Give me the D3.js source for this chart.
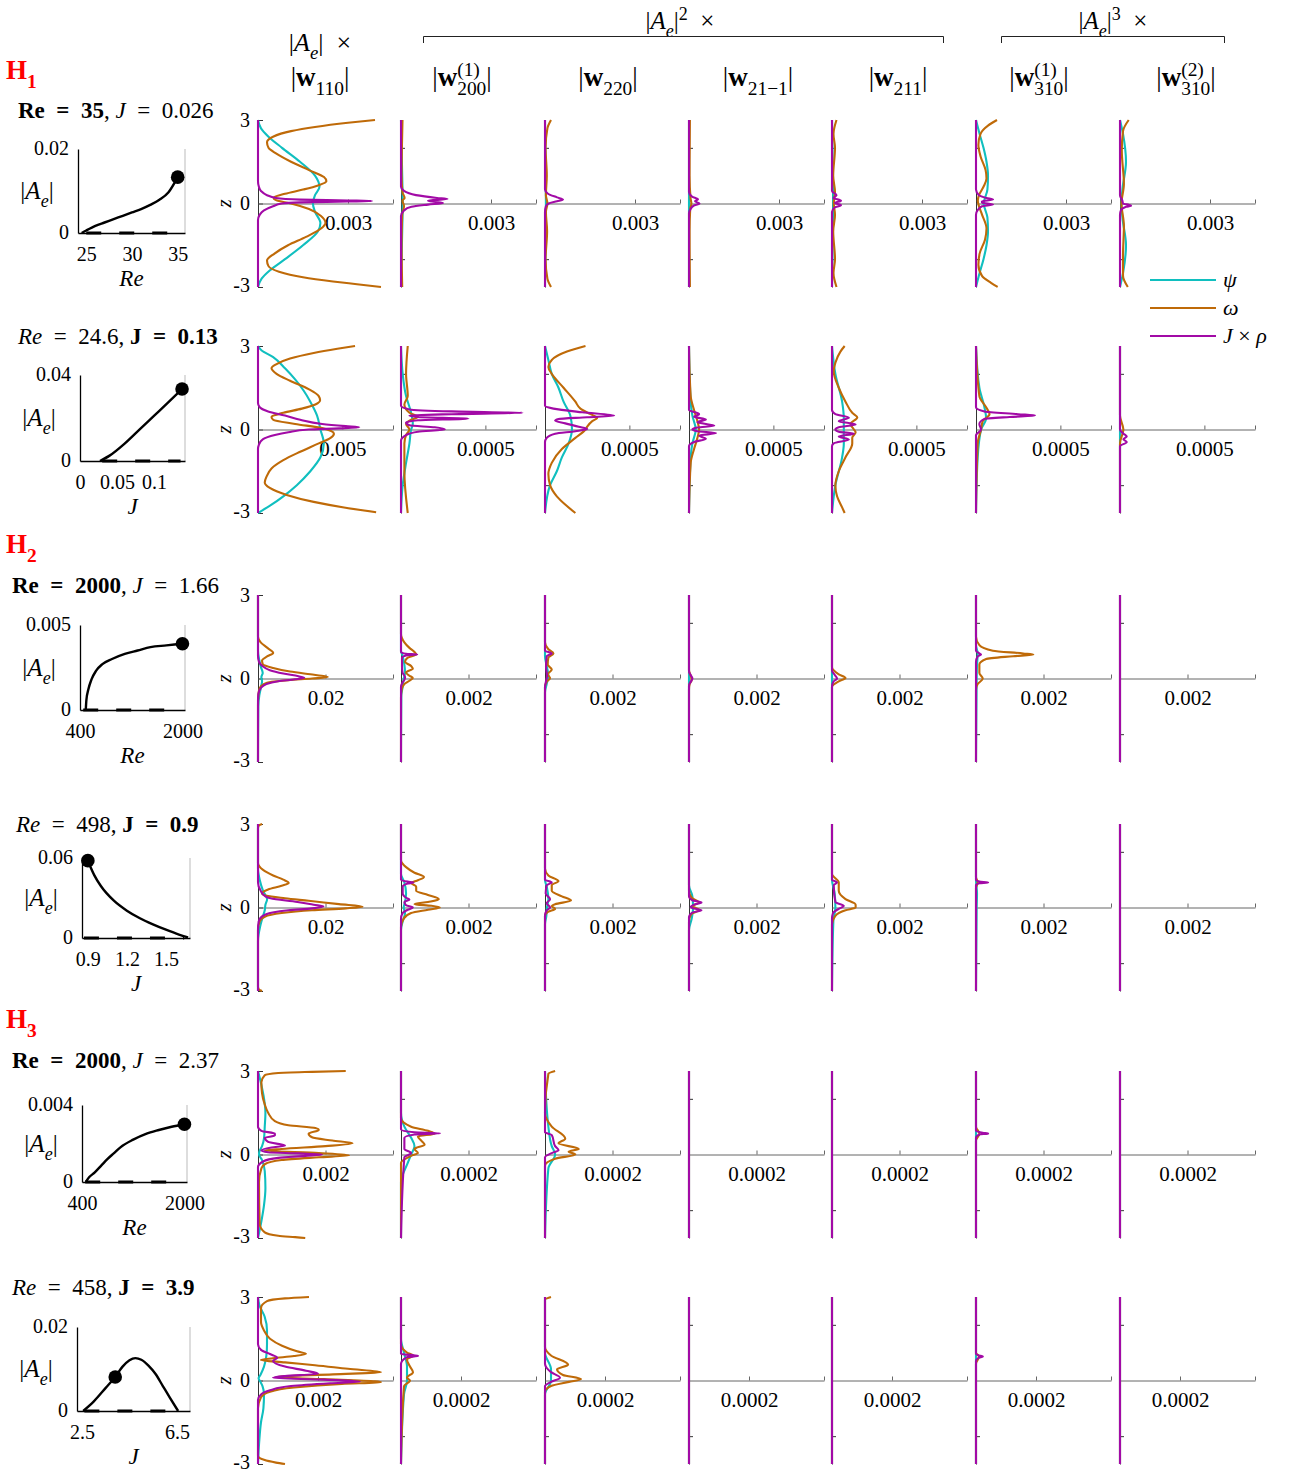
<!DOCTYPE html>
<meta charset="UTF-8">
<style>
  body { margin: 0; background: #fff; }
  text { font-family: "Liberation Serif", "DejaVu Serif", serif; fill: #000; }
  .curve { fill: none; stroke-width: 2.1px; stroke-linejoin: round; }
  .zaxis path, .zaxis line { stroke: #333; }
  .xaxis path, .xaxis line { stroke: #666; }
  .inset path.domain, .inset line { stroke: #000; }
</style>
<body>
<script src="https://cdn.jsdelivr.net/npm/d3@7"></script>
<script>

// ---------------- data ----------------
var FLAT = [[3, 0], [-3, 0]];

// axis limits and tick of the profile panels, one entry per row
var firstXMax  = [0.0045, 0.008, 0.04, 0.04, 0.004, 0.0045];
var firstTick  = [0.003, 0.005, 0.02, 0.02, 0.002, 0.002];
var otherXMax  = [0.0045, 0.0008, 0.004, 0.004, 0.0004, 0.00045];
var otherTick  = [0.003, 0.0005, 0.002, 0.002, 0.0002, 0.0002];

// bifurcation insets
var insetXLim  = [[24.1, 35.8], [0, 0.142], [400, 2040], [0.855, 1.685], [400, 2040], [2.29, 7.05]];
var insetYMax  = [0.02, 0.04, 0.005, 0.06, 0.004, 0.02];
var insetXTicks = [[25, 30, 35], [0, 0.05, 0.1], [400, 2000], [0.9, 1.2, 1.5], [400, 2000], [2.5, 6.5]];
var insetXName = ["Re", "J", "Re", "J", "Re", "J"];
var insetStable = [
  [[24.5,0],[25,0.0006],[26,0.0017],[27,0.0025],[28,0.0033],[29,0.0041],[30,0.0049],[31,0.0057],[32,0.0067],[33,0.0079],[34,0.0097],[35,0.0133]],
  [[0.027,0],[0.04,0.0025],[0.06,0.008],[0.08,0.0145],[0.1,0.021],[0.12,0.0275],[0.138,0.0335]],
  [[490,0],[500,0.0006],[530,0.0012],[580,0.0018],[650,0.0023],[750,0.0027],[900,0.003],[1100,0.0033],[1300,0.0035],[1500,0.0037],[1750,0.0038],[2000,0.0039]],
  [[0.9,0.058],[0.95,0.047],[1.0,0.039],[1.1,0.028],[1.2,0.0205],[1.3,0.0148],[1.4,0.0102],[1.5,0.0062],[1.6,0.0026],[1.67,0.0005]],
  [[460,0],[500,0.0002],[600,0.0005],[700,0.00085],[800,0.0012],[900,0.0015],[1000,0.0018],[1200,0.0022],[1400,0.0025],[1600,0.0027],[1800,0.00287],[2000,0.003]],
  [[2.55,0],[3.0,0.0023],[3.5,0.0055],[3.9,0.0081],[4.2,0.0105],[4.5,0.0121],[4.75,0.0126],[5.0,0.0122],[5.3,0.0108],[5.6,0.0088],[5.9,0.006],[6.2,0.0032],[6.55,0]]
];
var insetUnstable = [[25, 35], [0.03, 0.136], [450, 1850], [0.87, 1.64], [450, 1850], [2.6, 6.3]];
var insetDot = [[35, 0.0133], [0.138, 0.0335], [2000, 0.0039], [0.9, 0.058], [2000, 0.003], [3.9, 0.0081]];

// profiles: per panel [psi, omega, rho], points are [z, value]
var profilesH1a = [
  [[[3,0],[2.7,0.0001],[2.4,0.00035],[2,0.0008],[1.5,0.0014],[1,0.0019],[0.6,0.00205],[0.3,0.0019],[0,0.00183],[-0.3,0.0019],[-0.7,0.00208],[-1,0.002],[-1.5,0.0015],[-2,0.0009],[-2.4,0.0004],[-2.7,0.00012],[-3,0]],
   [[3,0.0039],[2.9,0.003],[2.75,0.0019],[2.6,0.0011],[2.4,0.0005],[2.2,0.0003],[2.0,0.00035],[1.8,0.0006],[1.5,0.0011],[1.2,0.0017],[0.95,0.0022],[0.8,0.00228],[0.65,0.002],[0.5,0.0015],[0.35,0.0009],[0.2,0.00052],[0.12,0.0006],[0,0.0011],[-0.2,0.0017],[-0.45,0.0021],[-0.7,0.00225],[-0.9,0.0021],[-1.2,0.0016],[-1.5,0.001],[-1.8,0.00055],[-2.05,0.0003],[-2.25,0.00035],[-2.45,0.0007],[-2.65,0.0015],[-2.8,0.0025],[-2.9,0.0033],[-3,0.0041]],
   [[3,0],[0.8,0],[0.6,0.00003],[0.45,0.0001],[0.3,0.0003],[0.2,0.0006],[0.14,0.0014],[0.11,0.003],[0.09,0.0038],[0.07,0.003],[0.04,0.0014],[0,0.0008],[-0.1,0.0005],[-0.25,0.0002],[-0.4,0.00006],[-0.6,0],[-3,0]]],
  [[[3,0],[1.5,0.00003],[0.5,0.00005],[0,0.00006],[-0.5,0.00005],[-1.5,0.00003],[-3,0]],
   [[3,0.00005],[2,0.00003],[1,0.00002],[0.4,0.00005],[0.2,0.00012],[0.1,0.00005],[-0.1,0.0001],[-0.4,0.00004],[-1.5,0.00002],[-3,0.00004]],
   [[3,0],[0.6,0],[0.45,0.0001],[0.3,0.0005],[0.2,0.0012],[0.16,0.00155],[0.1,0.0009],[0.06,0.0011],[0.02,0.0014],[-0.04,0.0009],[-0.12,0.00035],[-0.25,0.0001],[-0.45,0],[-3,0]]],
  [[[3,0],[1,0.00002],[0,0.00003],[-1,0.00002],[-3,0]],
   [[3,0.0002],[2.7,0.00008],[2,0.00002],[1,0.00006],[0.3,0.00003],[0,0.00008],[-0.3,0.00003],[-1,0.00007],[-2,0.00002],[-2.7,0.00008],[-3,0.0002]],
   [[3,0],[0.5,0],[0.35,0.0001],[0.22,0.0004],[0.14,0.0006],[0.08,0.0004],[0,0.00012],[-0.1,0.00003],[-0.3,0],[-3,0]]],
  [FLAT,
   [[3,0.00003],[1,0.00002],[0.2,0.00005],[0,0.00008],[-0.2,0.00004],[-1,0.00002],[-3,0.00003]],
   [[3,0],[0.4,0],[0.25,0.0001],[0.15,0.0003],[0.08,0.0002],[0,0.00035],[-0.08,0.00015],[-0.2,0.00005],[-0.35,0],[-3,0]]],
  [[[3,0],[1,0.00003],[0,0.00004],[-1,0.00003],[-3,0]],
   [[3,0.00015],[2.5,0.00005],[2,0.0001],[1,0.00004],[0.4,0.0001],[0,0.00006],[-0.4,0.0001],[-1,0.00004],[-2,0.0001],[-2.5,0.00005],[-3,0.00015]],
   [[3,0],[0.45,0],[0.3,0.00015],[0.2,0.00005],[0.1,0.0003],[0.02,0.0001],[-0.06,0.0003],[-0.15,0.00008],[-0.3,0],[-3,0]]],
  [[[3,0],[2.5,0.00012],[2,0.00025],[1.5,0.00035],[1,0.0004],[0.5,0.00038],[0.2,0.0003],[0,0.00025],[-0.2,0.0003],[-0.5,0.00038],[-1,0.0004],[-1.5,0.00035],[-2,0.00025],[-2.5,0.00012],[-3,0]],
   [[3,0.0007],[2.8,0.0004],[2.5,0.00015],[2.1,0.00008],[1.7,0.00015],[1.2,0.00032],[0.9,0.00035],[0.6,0.00025],[0.3,0.0001],[0.1,0.00006],[-0.1,0.0001],[-0.4,0.0002],[-0.9,0.00035],[-1.3,0.0003],[-1.8,0.00012],[-2.2,0.00008],[-2.6,0.0002],[-2.85,0.0005],[-3,0.00072]],
   [[3,0],[0.5,0],[0.3,0.0001],[0.2,0.00035],[0.14,0.00057],[0.08,0.0002],[0.03,0.0002],[-0.04,0.00057],[-0.1,0.0002],[-0.25,0.00005],[-0.4,0],[-3,0]]],
  [[[3,0],[2.5,0.0001],[1.5,0.0002],[0.5,0.00008],[0,0.00005],[-0.5,0.00008],[-1.5,0.0002],[-2.5,0.0001],[-3,0]],
   [[3,0.00029],[2.6,0.0001],[1.9,0.00006],[0.7,0.00013],[0,0.00005],[-0.8,0.00013],[-1.9,0.0001],[-2.6,0.0001],[-3,0.00026]],
   [[3,0],[0.3,0],[0.1,0.00008],[0,0.0001],[-0.05,0.0003],[-0.08,0.00037],[-0.12,0.0002],[-0.25,0.00003],[-0.4,0],[-3,0]]]
];

var profilesH1b = [
  [[[3,0],[2.85,0.0002],[2.6,0.0009],[2.2,0.0016],[1.8,0.0022],[1.4,0.0027],[1,0.0031],[0.5,0.0035],[0,0.0037],[-0.5,0.0039],[-1,0.0037],[-1.5,0.0031],[-2,0.0023],[-2.4,0.0015],[-2.7,0.0008],[-3,0]],
   [[3,0.00575],[2.9,0.0047],[2.75,0.0033],[2.55,0.0019],[2.35,0.0011],[2.2,0.0008],[2.0,0.0011],[1.75,0.0019],[1.45,0.003],[1.2,0.0036],[1.05,0.00368],[0.9,0.0034],[0.75,0.0026],[0.6,0.0015],[0.45,0.0008],[0.35,0.0009],[0.2,0.0022],[0.05,0.0038],[-0.15,0.0045],[-0.3,0.0043],[-0.5,0.0036],[-0.8,0.0025],[-1.1,0.0015],[-1.4,0.0008],[-1.7,0.0005],[-1.9,0.0004],[-2.1,0.0007],[-2.35,0.0017],[-2.6,0.0033],[-2.8,0.0051],[-2.97,0.007]],
   [[3,0],[0.95,0],[0.8,0.0001],[0.65,0.0006],[0.5,0.0016],[0.35,0.0025],[0.2,0.0038],[0.12,0.0052],[0.08,0.006],[0.04,0.0048],[0,0.003],[-0.1,0.0018],[-0.2,0.001],[-0.35,0.0003],[-0.55,0.00005],[-0.7,0],[-3,0]]],
  [[[3,0],[2,0.00001],[1.2,0.00003],[0.6,0.00006],[0.2,0.00007],[0,0.00006],[-0.5,0.00005],[-1.2,0.00003],[-2,0.00001],[-3,0]],
   [[3,0.00004],[2,0.00003],[1.2,0.00004],[0.9,0.00002],[0.6,0.00005],[0.45,0.0001],[0.35,0.00006],[0.2,0.00003],[0,0.00005],[-0.2,0.00003],[-0.5,0.00002],[-1.5,0.00002],[-3,0.00004]],
   [[3,0],[0.85,0],[0.72,0.00005],[0.65,0.0003],[0.6,0.00072],[0.55,0.0003],[0.5,0.00005],[0.45,0.0001],[0.39,0.0004],[0.33,0.0001],[0.25,0.00003],[0.15,0.00005],[0.08,0.0002],[0,0.00026],[-0.08,0.0001],[-0.2,0.00003],[-0.4,0],[-3,0]]],
  [[[3,0],[2.5,0.00002],[2,0.00004],[1.5,0.00008],[1,0.00011],[0.5,0.00015],[0,0.00016],[-0.5,0.00014],[-1,0.0001],[-1.5,0.00007],[-2,0.00003],[-3,0]],
   [[3,0.00024],[2.8,0.00013],[2.5,0.00004],[2.25,0.00002],[2,0.00004],[1.5,0.00011],[1,0.00018],[0.75,0.00021],[0.55,0.00027],[0.42,0.00031],[0.3,0.00028],[0.1,0.00025],[0,0.00024],[-0.3,0.00018],[-0.7,0.0001],[-1.2,0.00004],[-1.6,0.00002],[-2,0.00003],[-2.4,0.00007],[-2.75,0.00013],[-3,0.00018]],
   [[3,0],[0.85,0],[0.75,0.00005],[0.62,0.00022],[0.5,0.00041],[0.44,0.00025],[0.38,0.00008],[0.32,0.00006],[0.22,0.00012],[0.1,0.0002],[0.02,0.00025],[-0.06,0.00018],[-0.15,0.00006],[-0.3,0.00001],[-0.45,0],[-3,0]]],
  [[[3,0],[1,0.00001],[0.5,0.00002],[0,0.00004],[-0.5,0.00002],[-1,0.00001],[-3,0]],
   [[3,0],[1.2,0.00001],[0.7,0.00003],[0.3,0.00005],[0,0.00006],[-0.3,0.00005],[-0.7,0.00003],[-1.2,0.00001],[-3,0]],
   [[3,0],[0.7,0],[0.55,0.00006],[0.46,0.00003],[0.36,0.0001],[0.26,0.00005],[0.14,0.00015],[0.07,0.00005],[0,0.00002],[-0.06,0.00005],[-0.13,0.00016],[-0.22,0.00006],[-0.33,0.0001],[-0.45,0.00003],[-0.6,0],[-3,0]]],
  [[[3,0],[2,0.00002],[1,0.00006],[0.4,0.00007],[0,0.00007],[-0.5,0.00007],[-1,0.00006],[-2,0.00002],[-3,0]],
   [[3,0.000075],[2.8,0.00005],[2.4,0.00002],[2.1,0.00001],[1.5,0.00004],[1,0.00008],[0.6,0.00012],[0.43,0.00015],[0.2,0.00011],[0,0.00013],[-0.1,0.00014],[-0.3,0.00012],[-0.5,0.00012],[-1,0.00008],[-1.5,0.00004],[-2,0.00002],[-2.4,0.00003],[-2.8,0.00006],[-3,0.000075]],
   [[3,0],[0.7,0],[0.55,0.00002],[0.42,0.0001],[0.3,0.00004],[0.18,0.00014],[0.08,0.00004],[0,0.00002],[-0.08,0.00004],[-0.15,0.00013],[-0.25,0.00004],[-0.36,0.0001],[-0.5,0.00001],[-0.6,0],[-3,0]]],
  [[[3,0],[1.5,0.00002],[0.8,0.00005],[0.4,0.00006],[0,0.00003],[-1,0.00001],[-3,0]],
   [[3,0],[1.2,0.00002],[0.8,0.00006],[0.55,0.00008],[0.3,0.00004],[0,0.00003],[-0.5,0.00001],[-3,0]],
   [[3,0],[0.8,0],[0.65,0.00005],[0.55,0.00025],[0.5,0.00035],[0.45,0.0002],[0.38,0.00005],[0.2,0.00002],[0,0.00003],[-0.2,0],[-3,0]]],
  [FLAT,
   [[3,0],[0.5,0],[0,0.00002],[-0.5,0],[-3,0]],
   [[3,0],[0,0],[-0.15,0.00002],[-0.25,0.00004],[-0.35,0.00002],[-0.45,0.00004],[-0.6,0],[-3,0]]]
];

var profilesH2a = [
  [[[3,0],[1,0],[0.7,0.0003],[0.4,0.0009],[0.2,0.0014],[0.05,0.001],[-0.1,0.0012],[-0.3,0.0009],[-0.6,0.0004],[-1,0.0001],[-3,0]],
   [[3,0],[1.5,0],[1.3,0.0008],[1.1,0.0028],[0.92,0.0045],[0.8,0.0028],[0.65,0.0012],[0.52,0.0014],[0.38,0.0045],[0.25,0.0095],[0.15,0.0155],[0.08,0.0198],[0.05,0.0207],[0,0.016],[-0.06,0.009],[-0.12,0.004],[-0.22,0.0015],[-0.35,0.0005],[-0.6,0.0001],[-1,0],[-3,0]],
   [[3,0],[0.8,0],[0.6,0.0003],[0.45,0.0013],[0.3,0.0035],[0.18,0.0075],[0.08,0.012],[0.03,0.0137],[-0.03,0.011],[-0.1,0.006],[-0.2,0.0025],[-0.35,0.0008],[-0.55,0.0001],[-0.8,0],[-3,0]]],
  [[[3,0],[1,0],[0.8,0.00005],[0.5,0.0001],[0.2,0.00012],[0,0.00008],[-0.3,0.00005],[-0.6,0.00001],[-3,0]],
   [[3,0],[1.6,0],[1.3,0.0001],[1.1,0.00025],[0.95,0.0004],[0.86,0.00045],[0.75,0.0002],[0.6,0.00012],[0.45,0.0003],[0.35,0.00035],[0.22,0.00015],[0.1,0.00025],[0.02,0.00035],[-0.08,0.00025],[-0.2,0.0001],[-0.4,0.00002],[-0.7,0],[-3,0]],
   [[3,0],[0.95,0],[0.89,0.00015],[0.86,0.00048],[0.83,0.00015],[0.75,0.00003],[0.4,0.00003],[0.2,0.00005],[0.05,0.00012],[-0.05,0.0001],[-0.15,0.00004],[-0.3,0],[-3,0]]],
  [[[3,0],[0.8,0],[0.4,0.00006],[0.1,0.0001],[-0.2,0.00005],[-0.5,0],[-3,0]],
   [[3,0],[1.3,0],[1.05,0.0001],[0.9,0.00025],[0.75,0.0001],[0.5,0.00008],[0.32,0.0002],[0.15,0.00008],[0.02,0.00015],[-0.12,0.00005],[-0.3,0],[-3,0]],
   [[3,0],[1,0],[0.9,0.0002],[0.8,0.00005],[0.4,0.00003],[0.1,0.00006],[-0.1,0.00003],[-0.3,0],[-3,0]]],
  [FLAT,
   [[3,0],[0.3,0],[0.1,0.00005],[-0.05,0.00008],[-0.2,0.00002],[-0.4,0],[-3,0]],
   [[3,0],[0.25,0],[0.1,0.00006],[0,0.0001],[-0.1,0.00006],[-0.25,0],[-3,0]]],
  [FLAT,
   [[3,0],[0.4,0],[0.15,0.0002],[0.02,0.0004],[-0.1,0.0002],[-0.3,0],[-3,0]],
   [[3,0],[0.3,0],[0.1,0.0001],[0,0.00015],[-0.1,0.00005],[-0.3,0],[-3,0]]],
  [[[3,0],[1.2,0],[0.9,0.00005],[0.5,0.00003],[0,0.00002],[-3,0]],
   [[3,0],[1.5,0],[1.2,0.0001],[1.0,0.0005],[0.9,0.0014],[0.86,0.0017],[0.8,0.0011],[0.7,0.0003],[0.5,0.0001],[0.2,0.0001],[0,0.0002],[-0.2,0.00005],[-0.4,0],[-3,0]],
   [[3,0],[1,0],[0.9,0.0001],[0.86,0.00015],[0.8,0.00005],[0.6,0],[-3,0]]],
  [FLAT, FLAT, FLAT]
];

var profilesH2b = [
  [[[3,0],[1.4,0],[1,0.0005],[0.6,0.0015],[0.3,0.0027],[0.1,0.0022],[-0.1,0.002],[-0.3,0.0015],[-0.7,0.0006],[-1.2,0],[-3,0]],
   [[3,0.0012],[2.95,0.0003],[2.85,0],[1.6,0],[1.35,0.0015],[1.15,0.0045],[1,0.0075],[0.88,0.0091],[0.78,0.007],[0.65,0.003],[0.5,0.0012],[0.42,0.0025],[0.33,0.008],[0.24,0.015],[0.12,0.024],[0.03,0.031],[-0.03,0.026],[-0.1,0.016],[-0.2,0.007],[-0.33,0.002],[-0.5,0.0005],[-0.8,0],[-2.85,0],[-2.95,0.0003],[-3,0.0012]],
   [[3,0],[0.9,0],[0.6,0.0008],[0.42,0.002],[0.33,0.0037],[0.2,0.0117],[0.1,0.0165],[0.04,0.0194],[-0.03,0.016],[-0.1,0.009],[-0.18,0.0043],[-0.33,0.0011],[-0.5,0.0002],[-0.8,0],[-3,0]]],
  [[[3,0],[1.2,0],[0.9,0.0001],[0.5,0.00015],[0.2,0.00012],[0,0.00008],[-0.2,0.00012],[-0.5,0.00005],[-0.8,0],[-3,0]],
   [[3,0],[1.7,0],[1.45,0.00015],[1.25,0.0004],[1.1,0.00068],[0.98,0.0005],[0.88,0.0003],[0.75,0.00045],[0.6,0.00045],[0.45,0.0008],[0.3,0.00112],[0.2,0.0008],[0.12,0.0004],[0.06,0.0009],[0,0.00115],[-0.08,0.0008],[-0.2,0.0003],[-0.4,0.00008],[-0.7,0],[-3,0]],
   [[3,0],[1,0],[0.93,0.0002],[0.9,0.00037],[0.86,0.0002],[0.75,0.00005],[0.5,0.00005],[0.35,0.00015],[0.28,0.00025],[0.2,0.0001],[0.08,0.00015],[0,0.00035],[-0.08,0.0002],[-0.2,0.00005],[-0.4,0],[-3,0]]],
  [[[3,0],[1,0],[0.7,0.00006],[0.3,0.0001],[0,0.00006],[-0.3,0.00004],[-0.6,0],[-3,0]],
   [[3,0],[1.4,0],[1.15,0.0001],[0.95,0.0004],[0.8,0.0002],[0.6,0.0002],[0.4,0.0005],[0.25,0.00077],[0.12,0.0003],[0.05,0.0002],[-0.05,0.0003],[-0.15,0.0001],[-0.3,0],[-3,0]],
   [[3,0],[1,0],[0.9,0.0002],[0.8,0.00005],[0.5,0.00002],[0.3,0.00015],[0.15,0.00005],[0,0.00015],[-0.1,0.00005],[-0.3,0],[-3,0]]],
  [[[3,0],[0.8,0],[0.4,0.0001],[0,0.00012],[-0.4,0.00008],[-0.8,0],[-3,0]],
   [[3,0],[0.6,0],[0.35,0.00008],[0.18,0.0003],[0.05,0.0001],[-0.08,0.0003],[-0.25,0.00006],[-0.5,0],[-3,0]],
   [[3,0],[0.4,0],[0.26,0.0001],[0.18,0.00037],[0.1,0.00015],[0.03,0.00005],[-0.04,0.00015],[-0.1,0.00037],[-0.18,0.0001],[-0.35,0],[-3,0]]],
  [[[3,0],[1,0],[0.5,0.00008],[0,0.0001],[-0.5,0.00004],[-3,0]],
   [[3,0],[1.2,0],[0.9,0.0002],[0.6,0.0002],[0.3,0.0004],[0.1,0.0007],[0,0.0007],[-0.1,0.0004],[-0.3,0.0001],[-0.6,0],[-3,0]],
   [[3,0],[1,0],[0.9,0.00015],[0.8,0.00005],[0.2,0.0001],[0.05,0.00035],[-0.05,0.0002],[-0.2,0.00003],[-0.4,0],[-3,0]]],
  [[[3,0],[1,0],[0.5,0.00003],[0,0.00002],[-3,0]],
   [[3,0],[1.1,0],[0.9,0.00005],[0.7,0],[-3,0]],
   [[3,0],[1,0],[0.93,0.0001],[0.9,0.00036],[0.87,0.0001],[0.8,0],[-3,0]]],
  [FLAT, FLAT, FLAT]
];

var profilesH3a = [
  [[[3,0],[2.5,0.0001],[2,0.00018],[1.5,0.00022],[1,0.0002],[0.6,0.00018],[0.3,0.00012],[0.1,0.00004],[0,0.00003],[-0.2,0.00012],[-0.6,0.0002],[-1.2,0.00022],[-1.8,0.00018],[-2.4,0.0001],[-3,0]],
   [[3,0.0026],[2.97,0.0016],[2.93,0.0006],[2.85,0.0002],[2.6,0.0001],[2.2,0.00012],[1.8,0.0002],[1.5,0.0003],[1.2,0.0005],[1.05,0.0009],[0.95,0.0017],[0.88,0.0018],[0.75,0.0015],[0.62,0.0016],[0.5,0.0022],[0.4,0.0028],[0.3,0.002],[0.2,0.0007],[0.14,0.0002],[0.05,0.0018],[-0.03,0.0027],[-0.1,0.0018],[-0.2,0.0007],[-0.35,0.0002],[-0.5,0.0001],[-1,0.00003],[-2.5,0.00005],[-2.8,0.0002],[-2.92,0.0006],[-2.97,0.0011],[-3,0.0014]],
   [[3,0],[1,0],[0.85,0.0001],[0.75,0.0005],[0.68,0.0005],[0.6,0.0002],[0.45,0.0003],[0.32,0.0008],[0.25,0.0004],[0.15,0.0001],[0.08,0.0003],[0.04,0.0012],[0,0.0019],[-0.05,0.0014],[-0.12,0.0006],[-0.25,0.00015],[-0.45,0],[-3,0]]],
  [[[3,0],[1.5,0],[1,0.00001],[0.6,0.00003],[0.3,0.00004],[0,0.00003],[-0.3,0.00002],[-1,0],[-3,0]],
   [[3,0],[1.3,0],[1,0.00003],[0.85,0.00008],[0.75,0.0001],[0.65,0.00005],[0.5,0.00006],[0.35,0.00007],[0.2,0.00004],[0.05,0.00005],[-0.05,0.00003],[-0.3,0],[-3,0]],
   [[3,0],[0.9,0],[0.8,0.00004],[0.76,0.000116],[0.72,0.00004],[0.6,0.00001],[0.2,0.00001],[0.05,0.00003],[-0.1,0.00001],[-3,0]]],
  [[[3,0],[1,0.00001],[0.3,0.00002],[0,0.00003],[-0.5,0.00001],[-3,0]],
   [[3,0.00003],[2.9,0.00001],[1.5,0],[1,0.00002],[0.57,0.00006],[0.4,0.00004],[0.2,0.0001],[0.1,0.00007],[0,0.00009],[-0.15,0.00003],[-0.4,0],[-3,0]],
   [[3,0],[0.8,0],[0.7,0.00002],[0.3,0.00003],[0.15,0.00004],[0.05,0.00002],[-0.1,0],[-3,0]]],
  [FLAT, FLAT, FLAT],
  [FLAT, FLAT, FLAT],
  [FLAT,
   [[3,0],[1,0],[0.75,0.00001],[0.5,0],[-3,0]],
   [[3,0],[0.85,0],[0.78,0.00002],[0.75,0.000036],[0.72,0.00001],[0.6,0],[-3,0]]],
  [FLAT, FLAT, FLAT]
];

var profilesH3b = [
  [[[3,0],[2.7,0.00005],[2.3,0.00022],[1.8,0.0003],[1.3,0.0003],[0.9,0.00028],[0.5,0.0002],[0.2,0.00008],[0.08,0.00002],[-0.05,0.00008],[-0.2,0.00015],[-0.5,0.0002],[-1,0.00018],[-1.5,0.0001],[-2.2,0.00004],[-3,0]],
   [[3,0.0017],[2.95,0.0009],[2.85,0.0003],[2.6,0.0001],[2.1,0.0001],[1.8,0.0002],[1.5,0.0004],[1.25,0.0008],[1.05,0.0013],[0.96,0.0016],[0.88,0.0012],[0.8,0.0005],[0.74,0.0001],[0.65,0.0009],[0.55,0.0019],[0.42,0.003],[0.3,0.0041],[0.22,0.0025],[0.12,0.0006],[0.05,0.0022],[-0.03,0.0039],[-0.06,0.0041],[-0.12,0.0028],[-0.25,0.0012],[-0.4,0.0004],[-0.6,0.0001],[-1,0],[-2.7,0],[-2.85,0.0002],[-2.95,0.0006],[-3,0.0009]],
   [[3,0],[1.3,0],[1.1,0.0001],[0.95,0.0004],[0.82,0.00064],[0.7,0.0005],[0.5,0.0009],[0.35,0.0016],[0.24,0.002],[0.16,0.0009],[0.1,0.0005],[0.03,0.0022],[-0.04,0.0034],[-0.1,0.0024],[-0.2,0.0011],[-0.35,0.0004],[-0.5,0.0001],[-0.7,0],[-3,0]]],
  [[[3,0],[1.5,0],[1,0.00001],[0.5,0.00002],[0,0.00002],[-0.5,0.00001],[-3,0]],
   [[3,0],[1.3,0],[1,0.00002],[0.9,0.00004],[0.75,0.00002],[0.5,0.00003],[0.3,0.00004],[0.1,0.00002],[0,0.00003],[-0.2,0.00001],[-3,0]],
   [[3,0],[0.95,0],[0.92,0.00003],[0.88,0.000057],[0.84,0.00002],[0.6,0],[-3,0]]],
  [[[3,0],[1,0],[0.4,0.00002],[0,0.00002],[-0.5,0],[-3,0]],
   [[3,0.00002],[2.9,0],[1.2,0],[0.9,0.00002],[0.57,0.000077],[0.4,0.00004],[0.2,0.00006],[0.05,0.00012],[-0.05,0.00008],[-0.2,0.00002],[-0.4,0],[-3,0]],
   [[3,0],[0.6,0],[0.3,0.00002],[0.1,0.00005],[-0.05,0.00002],[-0.2,0],[-3,0]]],
  [FLAT, FLAT, FLAT],
  [FLAT, FLAT, FLAT],
  [FLAT,
   [[3,0],[1,0],[0.86,0.00001],[0.6,0],[-3,0]],
   [[3,0],[0.95,0],[0.9,0.00001],[0.86,0.000023],[0.82,0.00001],[0.7,0],[-3,0]]],
  [FLAT, FLAT, FLAT]
];

var allProfiles = [profilesH1a, profilesH1b, profilesH2a, profilesH2b, profilesH3a, profilesH3b];
var seriesColors = ["#10bfbf", "#bf6a08", "#a20aa6"];

// ---------------- layout ----------------
var W = 1301, H = 1474;
var rowTop = [120, 346, 595, 824, 1071, 1297];
var panelLeft = [258, 401, 545, 689, 832, 976, 1120];
var panelW = 135, panelH = 167;

var insetBox = [   // left, right, top, bottom of each inset axes
  [78, 185, 149, 233], [80, 185, 375, 461], [80, 185, 625, 710],
  [82, 190, 858, 938], [82, 187, 1105, 1182], [77, 190, 1327, 1411]
];
var titleY = [118, 344, 593, 832, 1068, 1295];
var titleX = [18, 18, 12, 16, 12, 12];

var svg = d3.select("body").append("svg")
    .attr("width", W)
    .attr("height", H);

// small helper for math-like labels built from tspans
function mathText(sel, x, y, parts, size, anchor) {
  var t = sel.append("text")
      .attr("x", x).attr("y", y)
      .attr("text-anchor", anchor || "start")
      .style("font-size", size + "px");
  var shift = 0;
  parts.forEach(function(p) {
    var ts = t.append("tspan").text(p.t);
    var target = p.sub ? size * 0.32 : (p.sup ? -size * 0.38 : 0);
    if (target - shift !== 0) ts.attr("dy", target - shift);
    shift = target;
    if (p.sub || p.sup) ts.style("font-size", (size * 0.72) + "px");
    if (p.it) ts.style("font-style", "italic");
    if (p.b) ts.style("font-weight", "bold");
    if (p.dx) ts.attr("dx", p.dx);
    if (p.fill) ts.style("fill", p.fill);
  });
  return t;
}

// ---------------- column headers ----------------
var hdr = svg.append("g");
mathText(hdr, 320, 51, [{t:"|"},{t:"A",it:true},{t:"e",it:true,sub:true},{t:"|\u2002\u00d7"}], 26, "middle");
mathText(hdr, 680, 29, [{t:"|"},{t:"A",it:true},{t:"e",it:true,sub:true},{t:"|"},{t:"2",sup:true},{t:"\u2002\u00d7"}], 25, "middle");
mathText(hdr, 1113, 29, [{t:"|"},{t:"A",it:true},{t:"e",it:true,sub:true},{t:"|"},{t:"3",sup:true},{t:"\u2002\u00d7"}], 25, "middle");
hdr.append("path").attr("d", "M423.5,43V36.5H943.5V43").attr("fill", "none").attr("stroke", "#222");
hdr.append("path").attr("d", "M1001.5,43V36.5H1224.5V43").attr("fill", "none").attr("stroke", "#222");

var colLabels = [
  {x: 320, sub: "110"}, {x: 462, sub: "200", sup: "(1)"}, {x: 608, sub: "220"},
  {x: 758, sub: "21\u22121"}, {x: 898, sub: "211"}, {x: 1039, sub: "310", sup: "(1)"},
  {x: 1186, sub: "310", sup: "(2)"}
];
colLabels.forEach(function(c) {
  var parts = [{t:"|"},{t:"w",b:true}];
  if (c.sup) parts.push({t:c.sup, sup:true});
  parts.push({t:c.sub, sub:true});
  parts.push({t:"|"});
  var t = mathText(hdr, c.x, 86, parts, 27, "middle");
  if (c.sup) {
    var tsp = t.selectAll("tspan").nodes();
    var wSup = tsp[2].getComputedTextLength();
    d3.select(tsp[3]).attr("dx", -wSup);
  }
});

// ---------------- rows ----------------
var hLabels = [{row: 0, n: "1", y: 79}, {row: 2, n: "2", y: 553}, {row: 4, n: "3", y: 1028}];
hLabels.forEach(function(h) {
  mathText(svg, 6, h.y, [{t:"H",b:true,fill:"#f00"},{t:h.n,b:true,sub:true,fill:"#f00"}], 27);
});

var titles = [
  [{t:"Re\u2002=\u200235",b:true},{t:", "},{t:"J",it:true},{t:"\u2002=\u20020.026"}],
  [{t:"Re",it:true},{t:"\u2002=\u200224.6, "},{t:"J\u2002=\u20020.13",b:true}],
  [{t:"Re\u2002=\u20022000",b:true},{t:", "},{t:"J",it:true},{t:"\u2002=\u20021.66"}],
  [{t:"Re",it:true},{t:"\u2002=\u2002498, "},{t:"J\u2002=\u20020.9",b:true}],
  [{t:"Re\u2002=\u20022000",b:true},{t:", "},{t:"J",it:true},{t:"\u2002=\u20022.37"}],
  [{t:"Re",it:true},{t:"\u2002=\u2002458, "},{t:"J\u2002=\u20023.9",b:true}]
];

var line = d3.line().curve(d3.curveMonotoneY);

rowTop.forEach(function(top, r) {
  mathText(svg, titleX[r], titleY[r], titles[r], 23);

  // ---- inset bifurcation diagram
  var box = insetBox[r];
  var ix = d3.scaleLinear().domain(insetXLim[r]).range([box[0], box[1]]);
  var iy = d3.scaleLinear().domain([0, insetYMax[r]]).range([box[3], box[2]]);
  var ig = svg.append("g").attr("class", "inset");
  ig.append("line").attr("x1", box[1]).attr("x2", box[1]).attr("y1", box[2]).attr("y2", box[3])
    .style("stroke", "#bbb");
  ig.append("g").attr("transform", "translate(0," + box[3] + ")")
    .call(d3.axisBottom(ix).tickValues(insetXTicks[r]).tickSize(0).tickPadding(14)
      .tickFormat(function(d) { return String(d); }))
    .call(function(g) { g.selectAll("text").style("font-size", "20px").style("font-family", null); });
  ig.append("g").attr("transform", "translate(" + box[0] + ",0)")
    .call(d3.axisLeft(iy).tickValues([0, insetYMax[r]]).tickSize(0).tickPadding(9)
      .tickFormat(function(d) { return String(d); }))
    .call(function(g) { g.selectAll("text").style("font-size", "20px").style("font-family", null).attr("dy", "0.28em"); });
  ig.selectAll("path.domain").style("stroke-width", "1.3px");

  var iline = d3.line().x(function(d) { return ix(d[0]); }).y(function(d) { return iy(d[1]); });
  ig.append("path")
    .attr("d", iline([[insetUnstable[r][0], 0], [insetUnstable[r][1], 0]]))
    .attr("fill", "none").attr("stroke", "#000").attr("stroke-width", 3.2)
    .attr("stroke-dasharray", "15,18");
  ig.append("path")
    .attr("d", iline.curve(d3.curveMonotoneX)(insetStable[r]))
    .attr("fill", "none").attr("stroke", "#000").attr("stroke-width", 2.4);
  ig.append("circle")
    .attr("cx", ix(insetDot[r][0])).attr("cy", iy(insetDot[r][1])).attr("r", 6.8)
    .attr("fill", "#000");

  mathText(svg, box[0] - 41, (box[2] + box[3]) / 2 + 8,
    [{t:"|"},{t:"A",it:true},{t:"e",it:true,sub:true},{t:"|"}], 25, "middle");
  svg.append("text")
    .attr("x", (box[0] + box[1]) / 2).attr("y", box[3] + 53)
    .attr("text-anchor", "middle")
    .style("font-size", "23px").style("font-style", "italic")
    .text(insetXName[r]);

  // ---- z label
  svg.append("text")
    .attr("transform", "translate(231," + (top + panelH / 2) + ") rotate(-90)")
    .attr("text-anchor", "middle")
    .style("font-size", "21px").style("font-style", "italic")
    .text("z");

  // ---- profile panels
  allProfiles[r].forEach(function(panel, c) {
    var x0 = panelLeft[c];
    var xmax = c === 0 ? firstXMax[r] : otherXMax[r];
    var tick = c === 0 ? firstTick[r] : otherTick[r];
    var x = d3.scaleLinear().domain([0, xmax]).range([x0, x0 + panelW]);
    var y = d3.scaleLinear().domain([-3, 3]).range([top + panelH, top]);
    var g = svg.append("g");

    var zAxis = d3.axisLeft(y).tickSizeOuter(0);
    if (c === 0) {
      zAxis.tickValues([-3, 0, 3]).tickSizeInner(-5).tickPadding(8).tickFormat(function(d) { return String(d); });
    } else {
      zAxis.tickValues([-2, 2]).tickSizeInner(-4).tickFormat("");
    }
    g.append("g").attr("class", "zaxis").attr("transform", "translate(" + x0 + ",0)")
      .call(zAxis)
      .call(function(s) {
        s.selectAll("text").style("font-size", "20px").style("font-family", null)
          .attr("dy", function(d) { return d === -3 ? "0.2em" : "0.32em"; });
      });

    g.append("g").attr("class", "xaxis").attr("transform", "translate(0," + y(0) + ")")
      .call(d3.axisBottom(x).tickValues([tick, xmax]).tickSizeOuter(0).tickSizeInner(-4).tickPadding(12)
        .tickFormat(function(d) { return d === tick ? String(d) : ""; }))
      .call(function(s) { s.selectAll("text").style("font-size", "21px").style("font-family", null); });

    line.x(function(d) { return x(d[1]); }).y(function(d) { return y(d[0]); });
    panel.forEach(function(series, k) {
      g.append("path")
        .attr("class", "curve")
        .attr("d", line(series))
        .style("stroke", seriesColors[k]);
    });
  });
});

// ---------------- legend ----------------
var legendItems = [
  [{t:"\u03c8",it:true}],
  [{t:"\u03c9",it:true}],
  [{t:"J",it:true},{t:" \u00d7 "},{t:"\u03c1",it:true}]
];
legendItems.forEach(function(parts, i) {
  var ly = 280 + i * 28;
  svg.append("line")
    .attr("x1", 1150).attr("x2", 1216).attr("y1", ly).attr("y2", ly)
    .attr("stroke", seriesColors[i]).attr("stroke-width", 2.2);
  mathText(svg, 1223, ly + 7, parts, 22);
});

</script>
</body>
